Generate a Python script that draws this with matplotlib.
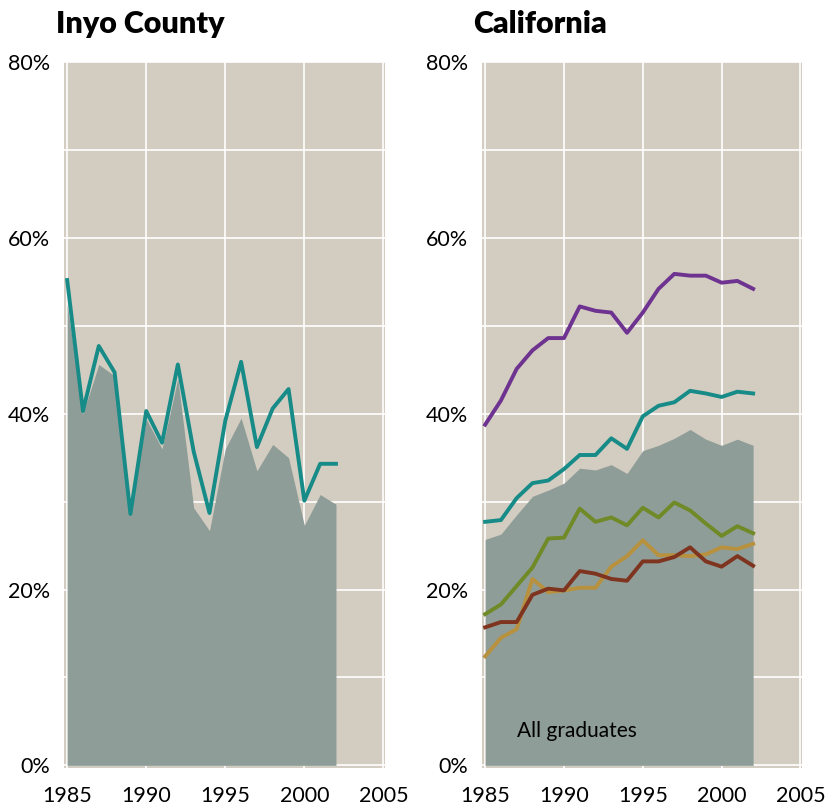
import matplotlib.pyplot as plt

years = list(range(1985, 2003))

# Inyo County
inyo_all = [52.4, 40.0, 45.6, 44.3, 28.5, 39.4, 36.0, 44.0, 29.3, 26.7,
            36.0, 39.5, 33.5, 36.5, 35.0, 27.3, 30.8, 29.7]
inyo_line = [55.2, 40.3, 47.7, 44.7, 28.6, 40.3, 36.7, 45.6, 35.7, 28.7,
             39.2, 45.9, 36.2, 40.6, 42.8, 30.1, 34.3, 34.3]

# California
ca_all = [25.7, 26.3, 28.5, 30.6, 31.3, 32.1, 33.8, 33.6, 34.2, 33.2,
          35.8, 36.4, 37.2, 38.2, 37.1, 36.4, 37.1, 36.4]
ca_purple = [38.75, 41.5, 45.1, 47.2, 48.6, 48.6, 52.2, 51.7, 51.5, 49.2,
             51.5, 54.2, 55.9, 55.7, 55.7, 54.9, 55.1, 54.2]
ca_teal = [27.7, 27.9, 30.4, 32.1, 32.4, 33.7, 35.3, 35.3, 37.2, 36.0,
           39.7, 40.9, 41.3, 42.6, 42.3, 41.9, 42.5, 42.3]
ca_olive = [17.2, 18.3, 20.4, 22.5, 25.8, 25.9, 29.2, 27.7, 28.2, 27.3,
            29.3, 28.2, 29.9, 29.0, 27.5, 26.1, 27.2, 26.4]
ca_gold = [12.4, 14.5, 15.5, 21.2, 19.7, 19.9, 20.2, 20.2, 22.6, 23.8,
           25.6, 23.9, 23.9, 23.8, 24.0, 24.8, 24.6, 25.2]
ca_brown = [15.7, 16.3, 16.3, 19.4, 20.1, 19.9, 22.1, 21.8, 21.2, 21.0,
            23.2, 23.2, 23.7, 24.8, 23.2, 22.6, 23.8, 22.7]

x_ticks = [1985, 1990, 1995, 2000, 2005]
y_ticks = [0, 20, 40, 60, 80]
y_labels = ["0%", "20%", "40%", "60%", "80%"]

BG = "#d3ccc1"
FILL = "#8f9d98"
TEAL = "#168b87"

plt.rcParams["font.family"] = ["Lato", "DejaVu Sans"]

W, H = 839, 808
fig = plt.figure(figsize=(W / 100, H / 100), dpi=100)
ax1 = fig.add_axes([64 / W, 1 - 768 / H, 321 / W, 706 / H])
ax2 = fig.add_axes([482 / W, 1 - 768 / H, 320 / W, 706 / H])


def style(ax, title, tx):
    ax.set_facecolor(BG)
    ax.set_xlim(1984.8, 2005.1)
    ax.set_ylim(-0.3, 80)
    for s in ax.spines.values():
        s.set_visible(False)
    ax.set_xticks(x_ticks)
    ax.set_xticklabels([str(t) for t in x_ticks], fontsize=15.5)
    ax.set_yticks(y_ticks)
    ax.set_yticklabels(y_labels, fontsize=15.5)
    ax.set_yticks(range(10, 80, 10), minor=True)
    ax.set_xticks(range(1990, 2005, 5), minor=True)
    ax.tick_params(length=0, which="both")
    ax.tick_params(axis="x", pad=13)
    ax.tick_params(axis="y", pad=10)
    ax.grid(True, which="both", color="white", linewidth=1.2, zorder=0)
    ax.set_axisbelow(True)
    fig.text(tx, 1 - 33 / H, title, fontsize=22, fontweight="heavy",
             ha="left", va="baseline")


style(ax1, "Inyo County", 56 / W)
style(ax2, "California", 473 / W)

ax1.fill_between(years, 0, inyo_all, color=FILL, linewidth=0, zorder=2)
ax1.plot(years, inyo_line, color=TEAL, linewidth=2.8, zorder=3)

ax2.fill_between(years, 0, ca_all, color=FILL, linewidth=0, zorder=2)
ax2.plot(years, ca_purple, color="#6e3390", linewidth=2.8, zorder=3)
ax2.plot(years, ca_teal, color=TEAL, linewidth=2.8, zorder=3)
ax2.plot(years, ca_olive, color="#6f8a26", linewidth=2.8, zorder=3)
ax2.plot(years, ca_gold, color="#b8913e", linewidth=2.8, zorder=3)
ax2.plot(years, ca_brown, color="#7f3420", linewidth=2.8, zorder=3)
ax2.text(1987.0, 3.9, "All graduates", fontsize=15, ha="left", va="center",
         zorder=4)

fig.savefig("out.png", dpi=100)
